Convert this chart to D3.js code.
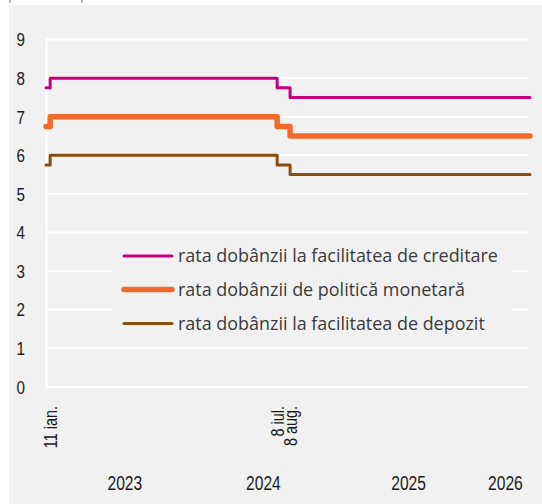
<!DOCTYPE html>
<html>
<head>
<meta charset="utf-8">
<script src="https://cdn.jsdelivr.net/npm/d3@7"></script>
<style>
  body { margin: 0; background: #fff; }
  .tick-lbl { font-family: "Liberation Sans", Arial, sans-serif; fill: #1a1a1a; }
  .legend-lbl { font-family: "Open Sans", Lato, sans-serif; fill: #3a3a3a; }
</style>
</head>
<body>
<script>
// data (step series, value holds from date until next date)
var stepDates = ["2023-01-01", "2023-01-11", "2024-07-08", "2024-08-08", "2026-03-06"];
var creditRate = [7.75, 8.00, 7.75, 7.50, 7.50];
var policyRate = [6.75, 7.00, 6.75, 6.50, 6.50];
var depositRate = [5.75, 6.00, 5.75, 5.50, 5.50];
var seriesNames = ["rata dobânzii la facilitatea de creditare", "rata dobânzii de politică monetară", "rata dobânzii la facilitatea de depozit"];
var seriesColors = ["#c4007b", "#f26a2b", "#8a4f0c"];
var seriesWidths = [3, 5.5, 3];
var yTicks = [0, 1, 2, 3, 4, 5, 6, 7, 8, 9];
var eventLabels = ["11 ian.", "8 iul.", "8 aug."];
var eventDates = ["2023-01-11", "2024-07-08", "2024-08-08"];
var yearLabels = ["2023", "2024", "2025", "2026"];
var yearLabelDates = ["2023-07-09", "2024-06-05", "2025-05-19", "2026-01-06"];

var parse = d3.timeParse("%Y-%m-%d");
var W = 542, H = 504;
var narrow = 0.8; // squeeze to mimic condensed axis font

var svg = d3.select("body").append("svg")
    .attr("width", W).attr("height", H);

// background panel
svg.append("rect").attr("x", 9).attr("y", 5).attr("width", W - 9).attr("height", H - 5).attr("fill", "#f1f1f1");
// little marks at top edge (leftovers from above)
svg.selectAll(".topmark").data([10, 82]).enter().append("line")
    .attr("x1", d => d).attr("x2", d => d).attr("y1", 0).attr("y2", 3)
    .attr("stroke", "#777").attr("stroke-width", 1);

var x = d3.scaleTime()
    .domain([parse(stepDates[0]), parse(stepDates[stepDates.length - 1])])
    .range([46, 530]);
var y = d3.scaleLinear().domain([0, 9]).range([386.7, 39.6]);

// grid
svg.append("g").selectAll("line").data(yTicks).enter().append("line")
    .attr("x1", 46).attr("x2", 528)
    .attr("y1", d => y(d)).attr("y2", d => y(d))
    .attr("stroke", "#fff").attr("stroke-width", 2);
svg.append("line").attr("x1", 46.5).attr("x2", 46.5).attr("y1", y(9)).attr("y2", y(0))
    .attr("stroke", "#fff").attr("stroke-width", 2);

// y labels
svg.append("g").selectAll("text").data(yTicks).enter().append("text")
    .attr("class", "tick-lbl")
    .attr("transform", d => "translate(25," + y(d) + ") scale(" + narrow + ",1)")
    .attr("dy", "0.36em")
    .attr("text-anchor", "end").attr("font-size", 19)
    .text(d => d);

// event labels (rotated)
svg.append("g").selectAll("text").data(eventLabels).enter().append("text")
    .attr("class", "tick-lbl")
    .attr("font-size", 18)
    .attr("text-anchor", "end")
    .attr("transform", (d, i) => "translate(" + (x(parse(eventDates[i])) + 7) + ",406) rotate(-90) scale(" + narrow + ",1)")
    .text(d => d);

// year labels
svg.append("g").selectAll("text").data(yearLabels).enter().append("text")
    .attr("class", "tick-lbl")
    .attr("font-size", 19.5)
    .attr("text-anchor", "middle")
    .attr("transform", (d, i) => "translate(" + x(parse(yearLabelDates[i])) + ",490) scale(" + narrow + ",1)")
    .text(d => d);

// lines
var allSeries = [creditRate, policyRate, depositRate];
var line = d3.line()
    .x(d => x(d.date)).y(d => y(d.v))
    .curve(d3.curveStepAfter);

allSeries.forEach(function(vals, i) {
    var pts = vals.map((v, j) => ({date: parse(stepDates[j]), v: v}));
    svg.append("path").datum(pts)
        .attr("d", line)
        .attr("fill", "none")
        .attr("stroke", seriesColors[i])
        .attr("stroke-width", seriesWidths[i])
        .attr("stroke-linecap", "round")
        .attr("stroke-linejoin", "round");
});

// legend
var lg = svg.append("g");
lg.append("rect").attr("x", 112).attr("y", 240).attr("width", 400).attr("height", 98).attr("fill", "#f1f1f1");
var legY = [256, 289.5, 323.5];
var legTexts = [];
seriesNames.forEach(function(name, i) {
    lg.append("line").attr("x1", 124).attr("x2", 172).attr("y1", legY[i]).attr("y2", legY[i])
        .attr("stroke", seriesColors[i]).attr("stroke-width", seriesWidths[i])
        .attr("stroke-linecap", "round");
    legTexts.push(lg.append("text").attr("class", "legend-lbl")
        .attr("x", 178).attr("y", legY[i]).attr("dy", "0.35em")
        .attr("font-size", 16)
        .text(name));
});
// fit the longest entry to the width it has in the original (~320px)
var len0 = legTexts[0].node().getComputedTextLength();
var fs = 16 * 320 / len0;
legTexts.forEach(t => t.attr("font-size", fs));
</script>
</body>
</html>
